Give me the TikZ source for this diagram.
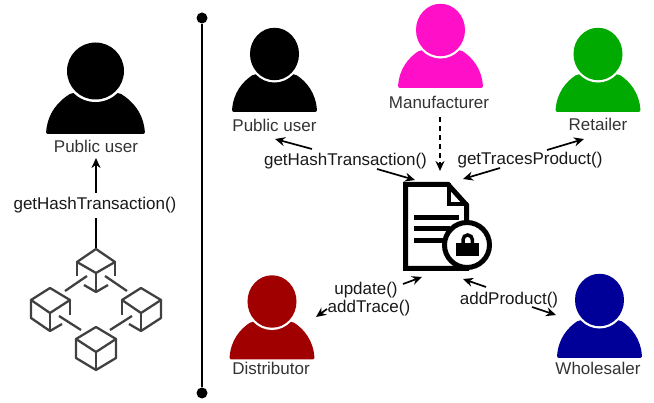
\documentclass[tikz,border=0pt]{standalone}
\usepackage{fontspec}
\setmainfont{Liberation Sans}
\usetikzlibrary{arrows.meta}
\definecolor{iconGrey}{HTML}{404040}
\definecolor{makerPink}{HTML}{FF10C8}
\definecolor{shopGreen}{HTML}{00AA00}
\definecolor{distRed}{HTML}{A00000}
\definecolor{saleBlue}{HTML}{000099}
\tikzset{
  lab/.style={font=\fontsize{17}{18}\selectfont, text=black!80, inner sep=0pt},
  call/.style={font=\fontsize{17}{18}\selectfont, text=black!90, inner sep=0pt},
  flow/.style={line width=1.7pt, -{Stealth[length=10pt,width=9pt]}},
  cube/.style={iconGrey, line width=2.3pt, line join=round},
  small/.style={xscale=0.86, yscale=0.92},
  pics/person/.style={code={
    \fill[#1, rounded corners=2pt] (-49.5,63) .. controls (-48,42) and (-37,30) .. (-24,22) -- (24,22)
      .. controls (37,30) and (48,42) .. (49.5,63) -- cycle;
    \fill[white] (0,0) circle (31);
    \fill[#1] (0,0) circle (28.5);
  }}
}
\begin{document}
\begin{tikzpicture}[x=1pt,y=-1pt]
\useasboundingbox (0,0) rectangle (654,403);

% left side
\pic at (95.5,71) {person=black};
\node[lab] (userA) at (96,146) {Public user};
\node[call] (hashA) at (95,205) {getHashTransaction()};
\coordinate (chainTop) at (96,249);
\draw[flow] (96,193) coordinate (upA) -- (96,158) coordinate (tipA);
\draw[line width=1.7pt] (96,218) coordinate (downA) -- (chainTop);

% blocks
\draw[cube] (chainTop) -- (77,262) -- (96,273) -- (115,262) -- cycle;
\draw[cube] (77,262) -- (77,276);
\draw[cube] (115,262) -- (115,276);
\draw[cube] (96,273) -- (96,292);
\draw[cube] (84,285) -- (96,292) -- (108,285);

\draw[cube] (50,288) -- (31,300) -- (50,313) -- (70,300) -- cycle;
\draw[cube] (31,300) -- (31,318) -- (50,331) -- (62,324);
\draw[cube] (50,313) -- (50,331);
\draw[cube] (70,300) -- (70,315);

\draw[cube] (141,288) -- (122,300) -- (141,313) -- (161,300) -- cycle;
\draw[cube] (161,300) -- (161,318) -- (141,331) -- (129,324);
\draw[cube] (141,313) -- (141,331);
\draw[cube] (122,300) -- (122,315);

\draw[cube] (96,327) -- (76,339) -- (96,352) -- (116,339) -- cycle;
\draw[cube] (76,339) -- (76,358) -- (96,370) -- (116,358) -- (116,339);
\draw[cube] (96,352) -- (96,370);

\draw[cube] (65,291) -- (87,276);
\draw[cube] (105,276) -- (127,291);
\draw[cube] (59,316) -- (81,330);
\draw[cube] (110,330) -- (132,316);

% divider
\node[circle, fill=black, inner sep=0pt, minimum size=11pt] (topDot) at (202,18) {};
\node[circle, fill=black, inner sep=0pt, minimum size=11pt] (botDot) at (202,393) {};
\draw[line width=2pt] (topDot) -- (botDot);

% actors
\pic at (274.5,54) [small] {person=black};
\pic at (440.5,30) [small] {person=makerPink};
\pic at (598,54) [small] {person=shopGreen};
\pic at (272,301.5) [small] {person=distRed};
\pic at (599.5,300) [small] {person=saleBlue};
\node[lab] (userB) at (274.5,125) {Public user};
\node[lab] (maker) at (439,102) {Manufacturer};
\node[lab] (shop) at (598,124) {Retailer};
\node[lab] (dist) at (271,368) {Distributor};
\node[lab] (sale) at (598,368) {Wholesaler};

% document
\coordinate (doc) at (436,226);
\draw[line width=5pt, miter limit=10, fill=white] (405.5,184.5) -- (448,184.5) -- (466.5,205) -- (466.5,268.5) -- (405.5,268.5) -- cycle;
\draw[line width=3.5pt] (449,183) -- (449,204) -- (468,204);
\draw[line width=5pt] (414,217.5) -- (459,217.5);
\draw[line width=5pt] (414,229) -- (450,229);
\draw[line width=5pt] (414,240.5) -- (446,240.5);
\node[circle, draw=black, fill=white, line width=5pt, minimum size=45pt, inner sep=0pt] (lock) at (467,245) {};
\fill (456,243.5) rectangle (479,256);
\draw[line width=3.5pt] (463,245) -- (463,239.7) arc[start angle=180, end angle=360, radius=4.7] -- (472.4,245);

% calls
\node[call] (hashB) at (345.5,161.5) {getHashTransaction()};
\node[call] (traces) at (530,160.5) {getTracesProduct()};
\node[call] (upd) at (366,290) {update()};
\node[call] (trace) at (369,308) {addTrace()};
\node[call] (prod) at (509,300) {addProduct()};

\draw[flow] (312,149) coordinate (h1) -- (275,139) coordinate (h2);
\draw[flow] (377,169) coordinate (h3) -- (415,180) coordinate (h4);
\draw[flow] (500,168) coordinate (t1) -- (463,179) coordinate (t2);
\draw[flow] (547,150) coordinate (t3) -- (584,139) coordinate (t4);
\draw[flow, dash pattern=on 5pt off 4pt] (440,117) coordinate (m1) -- (440,171) coordinate (m2);
\draw[flow] (403,284) coordinate (u1) -- (422,277) coordinate (u2);
\draw[flow] (327,309) coordinate (u3) -- (316,317) coordinate (u4);
\draw[flow] (486,287) coordinate (p1) -- (463,279) coordinate (p2);
\draw[flow] (532,307) coordinate (p3) -- (556,315) coordinate (p4);
\end{tikzpicture}
\end{document}
